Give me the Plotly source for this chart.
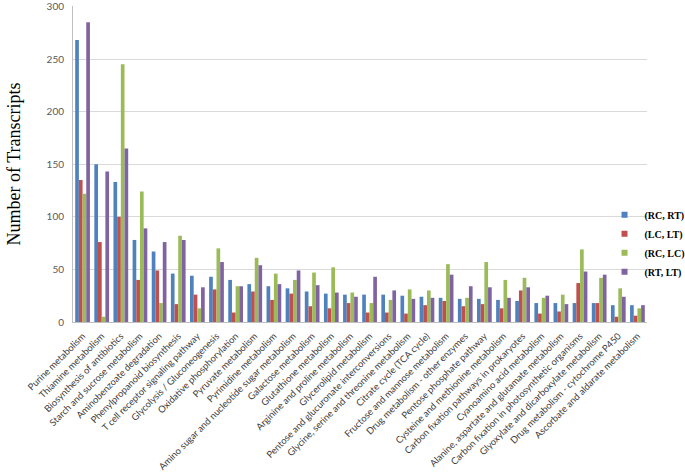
import plotly.graph_objects as go

categories = [
    "Purine metabolism", "Thiamine metabolism", "Biosynthesis of antibiotics",
    "Starch and sucrose metabolism", "Aminobenzoate degradation",
    "Phenylpropanoid biosynthesis", "T cell receptor signaling pathway",
    "Glycolysis / Gluconeogenesis", "Oxidative phosphorylation",
    "Pyruvate metabolism", "Pyrimidine metabolism",
    "Amino sugar and nucleotide sugar metabolism", "Galactose metabolism",
    "Glutathione metabolism", "Arginine and proline metabolism",
    "Glycerolipid metabolism", "Pentose and glucuronate interconversions",
    "Glycine, serine and threonine metabolism", "Citrate cycle (TCA cycle)",
    "Fructose and mannose metabolism", "Drug metabolism - other enzymes",
    "Pentose phosphate pathway", "Cysteine and methionine metabolism",
    "Carbon fixation pathways in prokaryotes", "Cyanoamino acid metabolism",
    "Alanine, aspartate and glutamate metabolism",
    "Carbon fixation in photosynthetic organisms",
    "Glyoxylate and dicarboxylate metabolism",
    "Drug metabolism - cytochrome P450", "Ascorbate and aldarate metabolism",
]

rc_rt = [268, 150, 133, 78, 67, 46, 44, 43, 40, 36, 34, 32, 29, 27, 26,
         26, 26, 25, 24, 23, 22, 22, 21, 20, 18, 18, 18, 18, 16, 16]
lc_lt = [135, 76, 100, 40, 49, 17, 26, 31, 9, 29, 21, 27, 15, 13, 18,
         9, 9, 8, 16, 20, 15, 17, 13, 30, 8, 10, 37, 18, 5, 6]
rc_lc = [122, 5, 245, 124, 18, 82, 13, 70, 34, 61, 46, 40, 47, 52, 28,
         18, 21, 31, 30, 55, 23, 57, 40, 42, 23, 26, 69, 42, 32, 13]
rt_lt = [285, 143, 165, 89, 76, 78, 33, 57, 34, 54, 36, 49, 35, 28, 24,
         43, 30, 22, 23, 45, 34, 33, 23, 33, 25, 17, 48, 45, 24, 16]

series_names = ["(RC, RT)", "(LC, LT)", "(RC, LC)", "(RT, LT)"]
series_values = [rc_rt, lc_lt, rc_lc, rt_lt]
colors = ["#4F81BD", "#C0504D", "#9BBB59", "#8064A2"]

fig = go.Figure()
for name, vals, col in zip(series_names, series_values, colors):
    fig.add_trace(go.Bar(x=categories, y=vals, name=name, showlegend=False,
                         marker=dict(color=col, line=dict(width=0))))
# legend-only entries with small square symbols
for name, col in zip(series_names, colors):
    fig.add_trace(go.Scatter(x=[None], y=[None], mode="markers", name=name,
                             marker=dict(symbol="square", size=6, color=col),
                             showlegend=True))

fig.update_layout(
    width=685, height=475,
    margin=dict(l=73, r=38, t=6, b=153, autoexpand=False),
    paper_bgcolor="white", plot_bgcolor="white",
    barmode="group", bargap=0.23, bargroupgap=0,
    showlegend=True,
    legend=dict(
        x=0.926, y=0.385, xanchor="left", yanchor="top",
        bgcolor="rgba(255,255,255,0)", borderwidth=0,
        font=dict(family="Liberation Serif", size=10, color="#000000",
                  weight="bold"),
        itemwidth=30,
    ),
    font=dict(family="Lato", color="#404040"),
)

fig.update_xaxes(
    tickangle=-45, tickfont=dict(family="Lato", size=9.4, color="#404040"),
    showline=True, linecolor="#BFBFBF", linewidth=1,
    ticks="", showgrid=False, automargin=False, ticklabeloverflow="allow",
    ticklabelstandoff=4,
)
fig.update_yaxes(
    range=[0, 300.4], dtick=50, tick0=0,
    showgrid=True, gridcolor="#D9D9D9", gridwidth=1,
    showline=True, linecolor="#BFBFBF", linewidth=1,
    zeroline=False, ticks="", ticklabeloverflow="allow",
    ticklabelstandoff=6,
    tickfont=dict(family="Lato", size=10, color="#595959"),
    title=dict(text="Number of Transcripts",
               font=dict(family="Liberation Serif", size=18, color="#000000"),
               standoff=21),
    automargin=False,
)

fig.write_html("out.html",
               config={"displayModeBar": False},
               post_script="document.body.style.margin='0';")
